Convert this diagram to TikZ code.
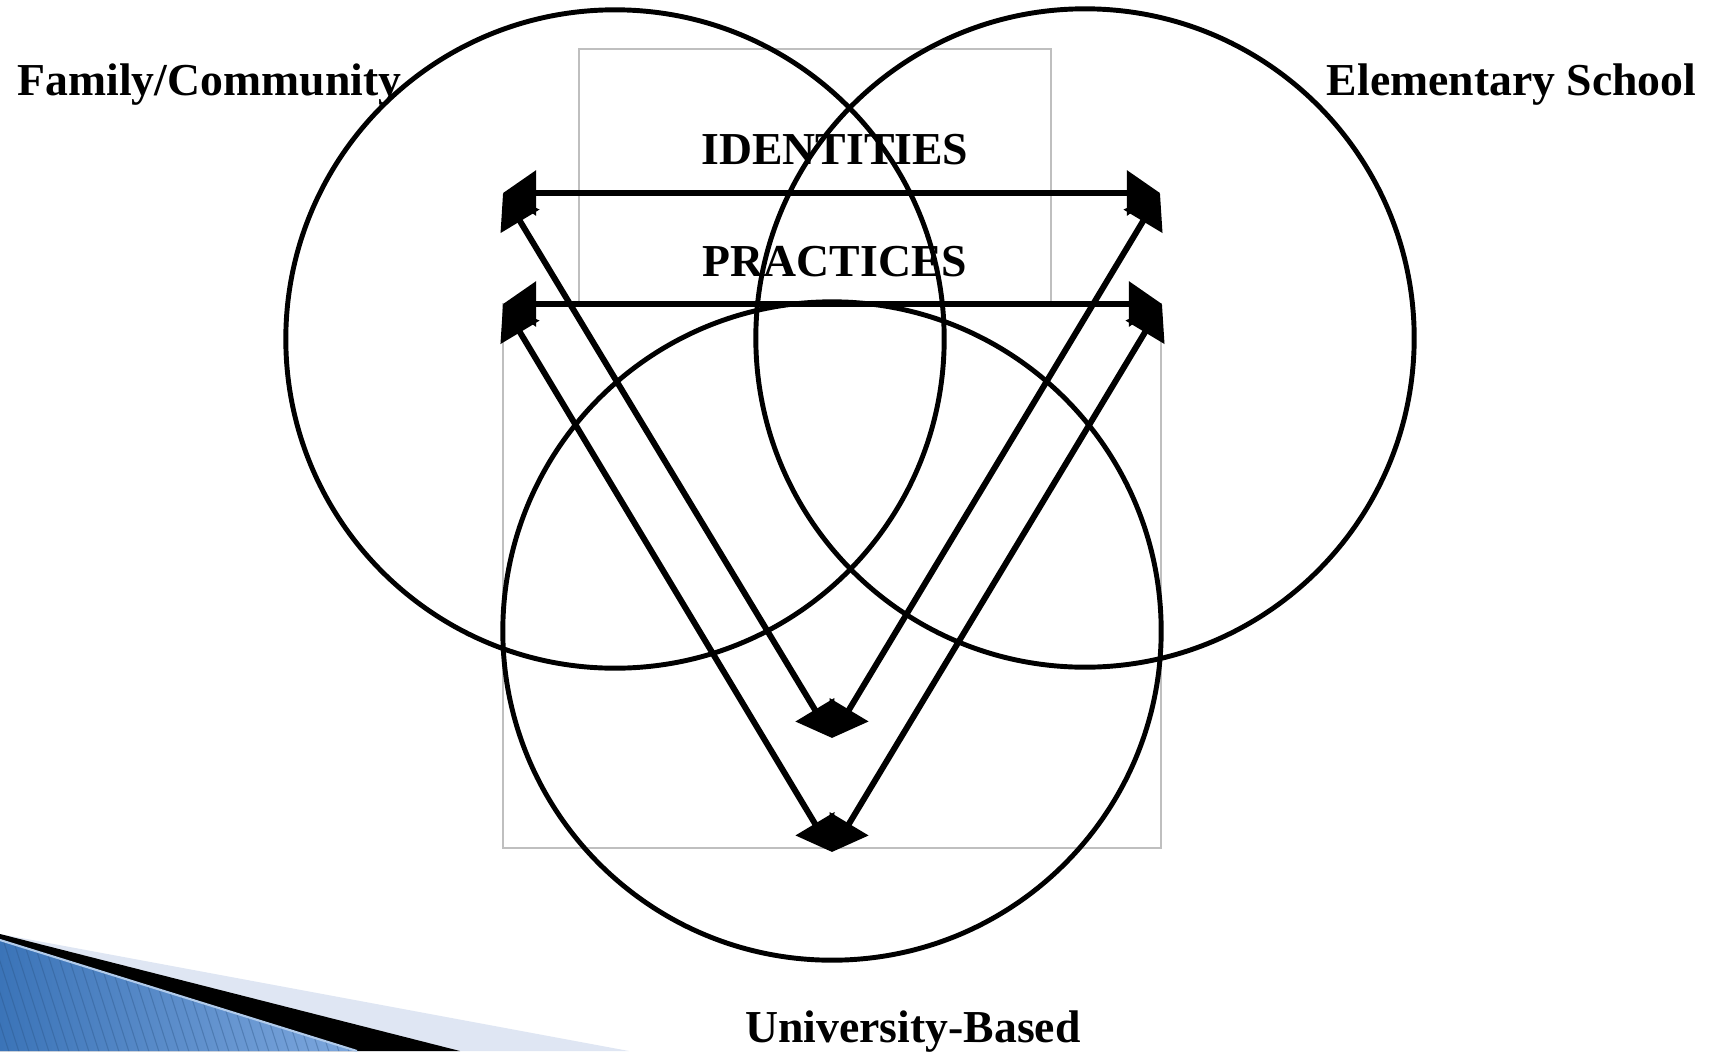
\documentclass[tikz,border=0pt]{standalone}
\usepackage{fontspec}
\setmainfont{Liberation Serif}
\usetikzlibrary{arrows.meta}

\definecolor{swooshblue}{HTML}{3B74B8}
\definecolor{swooshlight}{HTML}{7EA8DE}
\definecolor{swooshpale}{HTML}{DFE6F3}

\begin{document}
\begin{tikzpicture}[x=0.01cm, y=-0.01cm]
  \tikzset{
    ring/.style={circle, draw, line width=1.4pt, minimum size=6.58cm, inner sep=0pt},
    frame/.style={draw=black!25, line width=0.5pt},
    link/.style={line width=1.7pt, {Triangle[length=0.33cm, width=0.44cm]}-{Triangle[length=0.33cm, width=0.44cm]}},
    lbl/.style={font=\fontsize{13}{15}\selectfont\bfseries, inner sep=0pt}
  }
  \useasboundingbox (0,0) rectangle (1721,1051);

  % slide decoration, bottom left
  \fill[swooshpale] (0,934) -- (629,1051) -- (0,1051) -- cycle;
  \fill[black] (0,934) -- (460,1051) -- (0,1051) -- cycle;
  \begin{scope}
    \clip (0,940) -- (357,1051) -- (0,1051) -- cycle;
    \shade[left color=swooshblue, right color=swooshlight] (0,930) rectangle (360,1051);
    \foreach \i in {-40,-30,...,360}
      \draw[swooshblue!70!black, opacity=0.35, line width=0.3pt] (\i,930) -- ++(40,125);
  \end{scope}
  \draw[swooshlight!60!white, line width=0.6pt] (0,940) -- (357,1051);

  % the two frames
  \draw[frame] (579,49) rectangle (1051,304);
  \draw[frame] (503,304) rectangle (1161,848);

  % three spheres
  \node[ring] (famc) at (615,339) {};
  \node[ring] (elemc) at (1085,338) {};
  \node[ring] (univc) at (832,631) {};

  % arrow corners
  \coordinate (ul) at (503,193);
  \coordinate (ur) at (1160,193);
  \coordinate (ib) at (832,738);
  \coordinate (ll) at (503,304);
  \coordinate (lr) at (1162,304);
  \coordinate (ob) at (832,852);

  \draw[link] (ul) -- (ur);
  \draw[link] (ul) -- (ib);
  \draw[link] (ur) -- (ib);
  \draw[link] (ll) -- (lr);
  \draw[link] (ll) -- (ob);
  \draw[link] (lr) -- (ob);

  \node[lbl, anchor=base west] (fam) at (17,95) {Family/Community};
  \node[lbl, anchor=base east] (elem) at (1697,95) {Elementary School};
  \node[lbl, anchor=base] (ident) at (835,164) {IDENTITIES};
  \node[lbl, anchor=base] (pract) at (835,276) {PRACTICES};
  \node[lbl, anchor=base] (univ) at (913,1042) {University-Based};
\end{tikzpicture}
\end{document}
